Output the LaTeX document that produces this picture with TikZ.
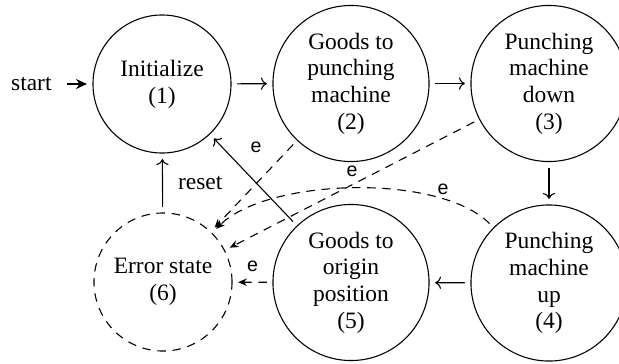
\documentclass[tikz,border=0pt]{standalone}
\usepackage{fontspec}
\setmainfont{Liberation Serif}
\newfontfamily\lblfont{Liberation Sans}
\usetikzlibrary{arrows.meta}
\begin{document}
\begin{tikzpicture}[x=0.46pt, y=-0.46pt,
  txt/.style={font=\fontsize{10.8}{12.3}\selectfont},
  dsh/.style={dash pattern=on 3.9pt off 3.1pt},
  state/.style={circle, draw, line width=0.5pt, align=center, inner sep=0pt, outer sep=2.8pt, txt},
  bigstate/.style={state, minimum size=71.8pt},
  smallstate/.style={state, minimum size=63.5pt},
  trans/.style={->, line width=0.5pt},
  errt/.style={-{Stealth[length=4pt,width=3.4pt]}, dsh, line width=0.5pt},
  lbl/.style={font=\lblfont\fontsize{9}{10}\selectfont, inner sep=0pt}
]
\useasboundingbox (0,0) rectangle (619,363);
\node[smallstate] (n1) at (162,84) {Initialize\\(1)};
\node[bigstate] (n2) at (351,83.5) {Goods to\\punching\\machine\\(2)};
\node[bigstate] (n3) at (549,83.5) {Punching\\machine\\down\\(3)};
\node[bigstate] (n4) at (549,283) {Punching\\machine\\up\\(4)};
\node[bigstate] (n5) at (351,282.5) {Goods to\\origin\\position\\(5)};
\node[smallstate, dsh] (n6) at (163,282) {Error state\\(6)};
\node[txt, inner sep=0pt, anchor=east] (start) at (52,84) {start};

\draw[-{Stealth[length=5pt,width=4.6pt,inset=1.6pt]}, line width=0.9pt, shorten <=6.9pt] (start) -- (n1);
\draw[trans] (n1) -- (n2);
\draw[trans] (n2) -- (n3);
\draw[trans] (n3) -- (n4);
\draw[trans] (n4) -- (n5);
\draw[trans] (n5) -- (n1);
\draw[trans] (n6) -- node[txt, midway, anchor=west, xshift=6.9pt, inner sep=0pt] {reset} (n1);

\draw[errt] (n2) -- node[lbl, pos=0.03, xshift=-16pt] {e} (n6);
\draw[errt] (n3) -- node[lbl, midway, yshift=6.4pt] {e} (n6);
\draw[errt] (n4) to[out=135, in=45, distance=33pt] node[lbl, pos=0.2, xshift=-1.6pt, yshift=4.9pt] {e} (n6);
\draw[errt] (n5) -- node[lbl, midway, yshift=7.4pt] {e} (n6);
\end{tikzpicture}
\end{document}
